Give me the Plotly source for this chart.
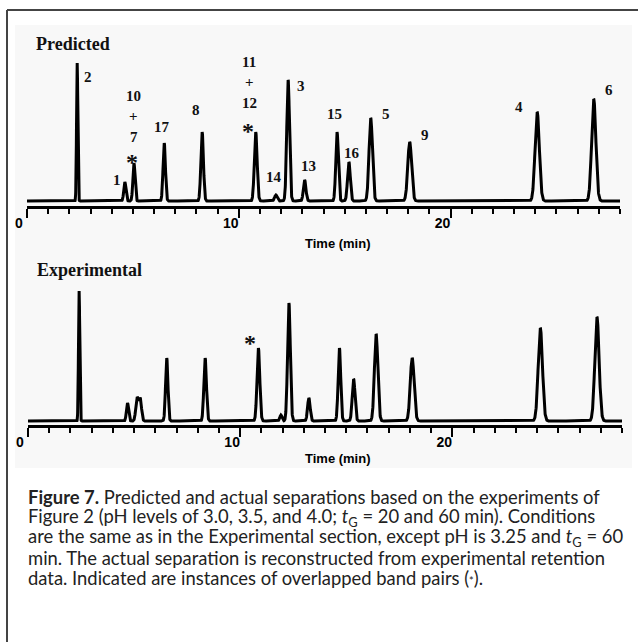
import numpy as np
import plotly.graph_objects as go

# ---------------- data ----------------
# Predicted chromatogram: peak labels, retention times (min), heights (a.u.), widths (sigma, min)
pred_labels = ["2", "1", "10+7", "17", "8", "11+12", "14", "3", "13", "15", "16", "5", "9", "4", "6"]
pred_time = [2.37, 4.62, 5.05, 6.48, 8.27, 10.80, 11.75, 12.33, 13.11, 14.64, 15.20, 16.23, 18.07, 24.09, 26.76]
pred_height = [138, 19, 38, 58, 69, 69, 6, 121, 21, 69, 39, 83, 59, 89, 102]
pred_sigma = [0.03, 0.05, 0.05, 0.055, 0.06, 0.065, 0.06, 0.065, 0.06, 0.06, 0.065, 0.08, 0.09, 0.10, 0.10]

# Experimental chromatogram (reconstructed)
exp_time = [2.41, 4.69, 5.14, 5.29, 6.54, 8.35, 10.86, 11.92, 12.30, 13.24, 14.68, 15.35, 16.41, 18.11, 24.15, 26.82]
exp_height = [130, 18, 23, 22, 63, 63, 73, 6, 118, 23, 73, 42, 87, 63, 93, 104]
exp_sigma = [0.03, 0.05, 0.06, 0.06, 0.055, 0.06, 0.065, 0.05, 0.065, 0.06, 0.06, 0.065, 0.08, 0.09, 0.10, 0.10]

x_range = [0, 28]
tick_major = [0, 10, 20]

caption_lines = [
    "<b>Figure 7.</b> Predicted and actual separations based on the experiments of",
    "Figure 2 (pH levels of 3.0, 3.5, and 4.0; <i>t</i><sub>G</sub> = 20 and 60 min). Conditions",
    "are the same as in the Experimental section, except pH is 3.25 and <i>t</i><sub>G</sub> = 60",
    "min. The actual separation is reconstructed from experimental retention",
    "data. Indicated are instances of overlapped band pairs (<span style='font-size:11px'>*</span>).",
]

# ---------------- build signals ----------------
t = np.linspace(x_range[0], x_range[1], 5601)


def chromatogram(times, heights, sigmas):
    y = np.zeros_like(t)
    for c, h, s in zip(times, heights, sigmas):
        y += h * np.exp(-0.5 * ((t - c) / s) ** 2)
    return y


y_pred = chromatogram(pred_time, pred_height, pred_sigma)
y_exp = chromatogram(exp_time, exp_height, exp_sigma)

W, H = 638, 642


def px(xp):
    return xp / W


def py(yp):
    return 1 - yp / H


fig = go.Figure()
fig.add_trace(go.Scatter(x=t, y=y_pred, mode="lines", line=dict(color="black", width=3),
                         xaxis="x", yaxis="y", hoverinfo="skip", showlegend=False))
fig.add_trace(go.Scatter(x=t, y=y_exp, mode="lines", line=dict(color="black", width=3),
                         xaxis="x2", yaxis="y2", hoverinfo="skip", showlegend=False))

axis_common = dict(
    range=x_range, showline=True, linecolor="black", linewidth=3, mirror=False,
    ticks="outside", tickmode="array", tickvals=tick_major, ticktext=[str(v) for v in tick_major],
    ticklen=9, tickwidth=2, tickcolor="black",
    minor=dict(ticks="outside", dtick=1, tick0=0, ticklen=5, tickwidth=2, tickcolor="black", showgrid=False),
    tickfont=dict(family="Liberation Sans, Arial", size=14, color="black", weight="bold"),
    ticklabelshift=-8, ticklabelstandoff=-6, showgrid=False, zeroline=False, fixedrange=True,
)

fig.update_layout(
    width=W, height=H, margin=dict(l=0, r=0, t=0, b=0, autoexpand=False),
    paper_bgcolor="white", plot_bgcolor="rgba(0,0,0,0)",
    xaxis=dict(domain=[px(27), px(620)], anchor="y", **axis_common),
    yaxis=dict(domain=[py(205.5), py(55)], range=[-4.5, 146], visible=False, fixedrange=True),
    xaxis2=dict(domain=[px(28), px(622)], anchor="y2", **axis_common),
    yaxis2=dict(domain=[py(424.5), py(280)], range=[-3.5, 141], visible=False, fixedrange=True),
)

shapes = [
    dict(type="rect", xref="paper", yref="paper", x0=px(15), x1=px(632), y0=py(468), y1=py(25),
         fillcolor="#f8f8f8", line=dict(width=0), layer="below"),
    dict(type="line", xref="paper", yref="paper", x0=px(7), x1=px(7), y0=py(10), y1=py(660),
         line=dict(color="#444", width=2)),
    dict(type="line", xref="paper", yref="paper", x0=px(7), x1=px(660), y0=py(10), y1=py(10),
         line=dict(color="#444", width=2)),
]
fig.update_layout(shapes=shapes)

ann = []
serif = "Liberation Serif, Times New Roman"
sans = "Liberation Sans, Arial"

# panel titles
ann.append(dict(text="<b>Predicted</b>", xref="paper", yref="paper", x=px(34), y=py(44),
                xanchor="left", yanchor="middle", showarrow=False,
                font=dict(family=serif, size=18, color="#111")))
ann.append(dict(text="<b>Experimental</b>", xref="paper", yref="paper", x=px(35), y=py(270),
                xanchor="left", yanchor="middle", showarrow=False,
                font=dict(family=serif, size=18, color="#111")))

# axis titles
for yy in (243, 458):
    ann.append(dict(text="<b>Time (min)</b>", xref="paper", yref="paper", x=px(338), y=py(yy),
                    xanchor="center", yanchor="middle", showarrow=False,
                    font=dict(family=sans, size=13, color="black")))


def pred_label(text, xmin, yval, size=15):
    ann.append(dict(text="<b>%s</b>" % text, xref="x", yref="y", x=xmin, y=yval,
                    xanchor="center", yanchor="middle", showarrow=False,
                    font=dict(family=serif, size=size, color="#111")))


def time_of(label):
    return pred_time[pred_labels.index(label)]


def height_of(label):
    return pred_height[pred_labels.index(label)]


# single labels: (label, dx in min, dy above apex)
singles = [("2", 0.51, -14), ("1", -0.37, 2), ("17", -0.11, 16), ("8", -0.29, 22),
           ("14", -0.09, 18), ("3", 0.61, -6), ("13", 0.16, 14), ("15", -0.10, 18),
           ("16", 0.14, 9), ("5", 0.72, 4), ("9", 0.72, 7), ("4", -0.86, 5), ("6", 0.72, 9)]
for lab, dx, dy in singles:
    pred_label(lab, time_of(lab) + dx, height_of(lab) + dy)

# stacked labels for co-eluting pairs
for lab, parts, dx, top_off in (("10+7", ["10", "+", "7"], 0.0, 67), ("11+12", ["11", "+", "12"], -0.30, 70)):
    tc, hc = time_of(lab), height_of(lab)
    top = hc + top_off
    for i, p in enumerate(parts):
        pred_label(p, tc + dx, top - i * 20.5)
    ann.append(dict(text="<b>*</b>", xref="x", yref="y", x=tc + dx - 0.08, y=hc + 1,
                    xanchor="center", yanchor="middle", showarrow=False,
                    font=dict(family=serif, size=24, color="#111")))

# asterisk on experimental panel
i11 = 6
ann.append(dict(text="<b>*</b>", xref="x2", yref="y2", x=exp_time[i11] - 0.38, y=exp_height[i11] + 5,
                xanchor="center", yanchor="middle", showarrow=False,
                font=dict(family=serif, size=24, color="#111")))

# caption
cap_font = dict(family="Lato, Liberation Sans", size=18.4, color="#222")
for i, line in enumerate(caption_lines):
    ann.append(dict(text=line, xref="paper", yref="paper", x=px(26), y=py(497 + i * 20.3),
                    xanchor="left", yanchor="middle", showarrow=False, font=cap_font))

fig.update_layout(annotations=ann)
fig.write_html("out.html")
